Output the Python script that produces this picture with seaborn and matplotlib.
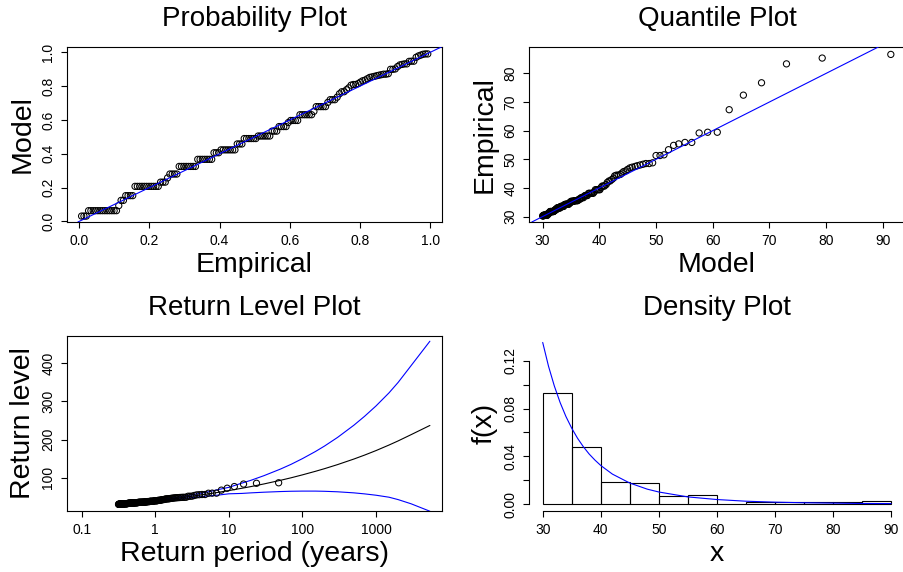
import numpy as np
import pandas as pd
import matplotlib
matplotlib.use("Agg")
import matplotlib.pyplot as plt
import seaborn as sns

# exceedances over the threshold: sorted levels and how many times each occurs
obs_levels = [30.23, 30.48, 30.73, 30.99, 31.24, 31.75, 32.00, 32.26, 32.51, 33.02, 33.53, 34.04, 34.29, 34.80,
              35.31, 35.56, 36.07, 36.58, 37.08, 37.34, 38.10, 38.61, 39.37,
              40.13, 40.64, 41.15, 41.91, 42.42, 42.93, 43.43, 44.20, 44.45, 44.70,
              45.21, 45.72, 45.97, 46.48, 46.99, 47.24, 47.50, 47.75, 48.01, 48.26, 48.51, 48.77,
              51.31, 51.56, 53.34, 54.86, 55.37, 55.88, 59.18, 59.44,
              67.31, 72.39, 76.71, 83.31, 85.34, 86.61]
obs_counts = [3, 13, 1, 2, 4, 11, 3, 1, 4, 8, 7, 3, 7, 3,
              6, 6, 3, 4, 1, 4, 6, 1, 5,
              1, 3, 1, 1, 2, 1, 1, 1, 2, 1,
              1, 1, 1, 1, 1, 1, 1, 1, 1, 1, 2, 1,
              2, 1, 1, 1, 1, 2, 1, 2,
              1, 1, 1, 1, 1, 1]
# fitted model probability at each level (probability plot, y axis)
model_cdf = [0.031, 0.063, 0.093, 0.124, 0.152, 0.207, 0.232, 0.257, 0.280, 0.325, 0.367, 0.406, 0.423, 0.458,
             0.490, 0.505, 0.534, 0.561, 0.585, 0.597, 0.631, 0.651, 0.679,
             0.704, 0.720, 0.735, 0.755, 0.767, 0.779, 0.790, 0.806, 0.810, 0.815,
             0.824, 0.832, 0.836, 0.844, 0.852, 0.855, 0.858, 0.862, 0.865, 0.868, 0.871, 0.874,
             0.900, 0.902, 0.916, 0.926, 0.929, 0.932, 0.947, 0.948,
             0.971, 0.979, 0.984, 0.989, 0.991, 0.991]
# model quantiles for each ordered observation (quantile plot, x axis)
qq_model = [30.0, 30.1, 30.1, 30.2, 30.2, 30.3, 30.4, 30.4, 30.5, 30.5, 30.6, 30.6, 30.7, 30.7, 30.8,
            30.8, 30.9, 30.9, 31.0, 31.1, 31.1, 31.2, 31.2, 31.3, 31.4, 31.4, 31.5, 31.5, 31.6, 31.7,
            31.7, 31.8, 31.9, 31.9, 32.0, 32.1, 32.1, 32.2, 32.3, 32.3, 32.4, 32.5, 32.6, 32.6, 32.7,
            32.8, 32.9, 32.9, 33.0, 33.1, 33.2, 33.2, 33.3, 33.4, 33.5, 33.6, 33.7, 33.8, 33.8, 33.9,
            34.0, 34.1, 34.2, 34.3, 34.4, 34.5, 34.6, 34.7, 34.8, 34.9, 35.0, 35.1, 35.2, 35.3, 35.4,
            35.5, 35.6, 35.8, 35.9, 36.0, 36.1, 36.2, 36.4, 36.5, 36.6, 36.8, 36.9, 37.0, 37.2, 37.3,
            37.5, 37.6, 37.8, 37.9, 38.1, 38.2, 38.4, 38.6, 38.7, 38.9, 39.1, 39.3, 39.5, 39.7, 39.9,
            40.1, 40.3, 40.5, 40.7, 40.9, 41.2, 41.4, 41.7, 41.9, 42.2, 42.5, 42.7, 43.0, 43.3, 43.7,
            44.0, 44.3, 44.7, 45.0, 45.4, 45.8, 46.3, 46.7, 47.2, 47.7, 48.2, 48.8, 49.4, 50.0, 50.7,
            51.4, 52.2, 53.1, 54.0, 55.1, 56.3, 57.6, 59.1, 60.8, 62.9, 65.4, 68.6, 73.0, 79.3, 91.4]
rate = 3.18  # exceedances per year

# return level curve and its confidence band
rl_period = [0.3, 0.5, 0.7, 1, 1.5, 2, 3, 5, 7, 10, 15, 20, 30, 50, 70, 100, 150, 200, 300, 500, 700,
             1000, 1500, 2000, 3000, 5400]
rl_est = [29.7, 33.6, 36.4, 39.6, 43.4, 46.4, 50.8, 56.9, 61.2, 66.2, 72.2, 76.7, 83.6, 93.0, 99.7,
          107.4, 116.7, 123.7, 134.3, 148.9, 159.3, 171.1, 185.6, 196.5, 212.9, 237.0]
rl_low = [28.7, 32.5, 35.2, 38.2, 41.3, 43.8, 47.3, 51.8, 54.1, 57.7, 58.7, 60.2, 61.9, 63.6, 64.4,
          64.8, 64.8, 64.3, 63.0, 60.2, 57.5, 54.0, 48.8, 42.5, 31.5, 12.0]
rl_up = [30.7, 34.7, 37.6, 41.0, 45.5, 49.0, 54.3, 62.0, 68.3, 74.7, 85.7, 93.2, 105.3, 122.4, 135.0,
         150.0, 168.6, 183.1, 205.6, 237.6, 261.1, 288.2, 322.4, 350.0, 394.0, 458.0]

# fitted density
dens_x = [30, 31, 32, 33, 34, 35, 36, 37, 38, 39, 40, 42, 45, 48, 50, 55, 60, 65, 70, 75, 80, 85, 90]
dens_y = [0.1353, 0.1154, 0.0989, 0.0850, 0.0733, 0.0635, 0.0551, 0.0480, 0.0419, 0.0368, 0.0323,
          0.0251, 0.0176, 0.0125, 0.0101, 0.0060, 0.0038, 0.0024, 0.0016, 0.0011, 0.0008, 0.0005, 0.0004]
hist_breaks = [30, 35, 40, 45, 50, 55, 60, 65, 70, 75, 80, 85, 90]

obs = np.repeat(obs_levels, obs_counts)
model_prob = np.repeat(model_cdf, obs_counts)
n = len(obs)
emp_prob = np.arange(1, n + 1) / (n + 1)        # plotting positions
ret_period = 1 / (rate * (1 - emp_prob))

sns.set_style("ticks")
plt.rcParams["font.family"] = ["Liberation Sans", "DejaVu Sans"]
plt.rcParams["axes.linewidth"] = 0.8
for key in ("text.color", "axes.labelcolor", "xtick.color", "ytick.color", "axes.edgecolor"):
    plt.rcParams[key] = "black"

fig = plt.figure(figsize=(9.04, 5.72), dpi=100)
W, H = 904.0, 572.0

def make_ax(l, t, r, b):
    return fig.add_axes([l / W, 1 - b / H, (r - l) / W, (b - t) / H])

ax1 = make_ax(67, 47, 442, 222)
ax2 = make_ax(529, 47, 905, 222)
ax3 = make_ax(67, 336, 442, 511)
ax4 = make_ax(529, 336, 905, 511)

pt = dict(marker="o", s=20, facecolor="none", edgecolor="black", linewidth=0.75)
blue = "#0000FF"
title_fs, lab_fs, tick_fs = 20, 20.5, 10

# probability plot
sns.scatterplot(x=emp_prob, y=model_prob, ax=ax1, zorder=2, **pt)
ax1.axline((0, 0), slope=1, color=blue, lw=0.8, zorder=3)
ax1.set_xlim(-0.035, 1.034)
ax1.set_ylim(-0.004, 1.032)
ax1.set_xticks(np.arange(0, 1.01, 0.2))
ax1.set_yticks(np.arange(0, 1.01, 0.2))
ax1.set_xticklabels(["0.0", "0.2", "0.4", "0.6", "0.8", "1.0"])
ax1.set_yticklabels(["0.0", "0.2", "0.4", "0.6", "0.8", "1.0"])
ax1.set_title("Probability Plot", y=1.16, pad=0, va="center")
ax1.set_xlabel("Empirical")
ax1.set_ylabel("Model")

# quantile plot
sns.scatterplot(x=qq_model, y=obs, ax=ax2, zorder=2, **pt)
ax2.axline((30, 30), slope=1, color=blue, lw=0.8, zorder=3)
ax2.set_xlim(27.6, 93.9)
ax2.set_ylim(28.1, 89.2)
ax2.set_xticks(range(30, 91, 10))
ax2.set_yticks(range(30, 81, 10))
ax2.set_title("Quantile Plot", y=1.16, pad=0, va="center")
ax2.set_xlabel("Model")
ax2.set_ylabel("Empirical")

# return level plot
sns.lineplot(x=rl_period, y=rl_est, ax=ax3, color="black", lw=0.8, estimator=None)
sns.lineplot(x=rl_period, y=rl_low, ax=ax3, color=blue, lw=0.8, estimator=None)
sns.lineplot(x=rl_period, y=rl_up, ax=ax3, color=blue, lw=0.8, estimator=None)
sns.scatterplot(x=ret_period, y=obs, ax=ax3, zorder=2, **pt)
ax3.set_xscale("log")
ax3.set_xlim(10 ** -1.2, 10 ** 3.897)
ax3.set_ylim(12.6, 471.7)
ax3.set_xticks([0.1, 1, 10, 100, 1000])
ax3.set_xticklabels(["0.1", "1", "10", "100", "1000"])
ax3.minorticks_off()
ax3.set_yticks([100, 200, 300, 400])
ax3.set_title("Return Level Plot", y=1.16, pad=0, va="center")
ax3.set_xlabel("Return period (years)")
ax3.set_ylabel("Return level")

# density plot
sns.histplot(x=obs, bins=hist_breaks, stat="density", fill=False, color="black",
             linewidth=0.8, ax=ax4)
sns.lineplot(x=dens_x, y=dens_y, ax=ax4, color=blue, lw=0.8, estimator=None)
ax4.set_xlim(27.64, 92.4)
ax4.set_ylim(-0.0058, 0.1407)
ax4.set_xticks(range(30, 91, 10))
ax4.set_yticks(np.arange(0, 0.121, 0.02))
ax4.set_yticklabels(["0.00", "", "0.04", "", "0.08", "", "0.12"])
ax4.spines["top"].set_visible(False)
ax4.spines["right"].set_visible(False)
ax4.spines["bottom"].set_bounds(30, 90)
ax4.spines["left"].set_bounds(0, 0.12)
ax4.set_title("Density Plot", y=1.16, pad=0, va="center")
ax4.set_xlabel("x")
ax4.set_ylabel("f(x)")

for ax in (ax1, ax2, ax3, ax4):
    ax.title.set_fontsize(title_fs)
    ax.title.set_color("black")
    ax.xaxis.label.set_fontsize(lab_fs)
    ax.yaxis.label.set_fontsize(lab_fs)
    ax.xaxis.label.set_va("center")
    ax.yaxis.label.set_va("center")
    ax.xaxis.set_label_coords(0.5, -0.245)
    ax.yaxis.set_label_coords(-0.118, 0.5)
    ax.tick_params(direction="out", length=4.3, width=0.8, labelsize=tick_fs, pad=4,
                   color="black", labelcolor="black")
    ax.tick_params(axis="y", labelrotation=90)
    for lab in ax.get_yticklabels():
        lab.set_va("center")
    for s in ax.spines.values():
        s.set_color("black")
        s.set_linewidth(0.8)

fig.savefig("out.png", dpi=100)
